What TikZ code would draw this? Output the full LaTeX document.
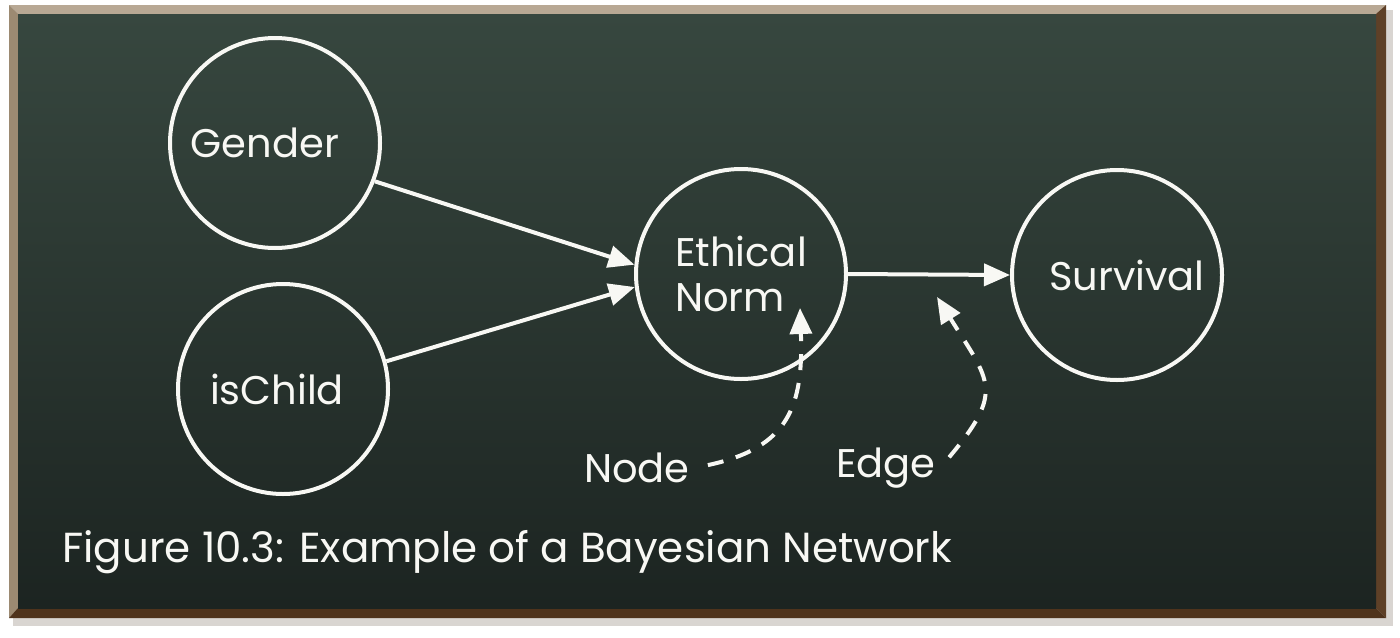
\documentclass[tikz,border=0pt]{standalone}
\usepackage{fontspec}
\setmainfont{Poppins}
\usetikzlibrary{arrows.meta,calc}
\definecolor{chalk}{HTML}{F8F8F4}
\definecolor{boardtop}{HTML}{37473F}
\definecolor{boardbot}{HTML}{1C2421}
\definecolor{frametop}{HTML}{B8A894}
\definecolor{frameleft}{HTML}{9C8A72}
\definecolor{frameright}{HTML}{5E4027}
\definecolor{framebot}{HTML}{4F331C}
\definecolor{shadowc}{HTML}{D9D5D1}
\tikzset{
  var/.style={circle, draw=chalk, line width=2pt, minimum size=105pt, inner sep=0pt,
    text=chalk, font=\fontsize{20}{22.5}\selectfont},
  lbl/.style={text=chalk, font=\fontsize{20}{24}\selectfont, inner sep=2pt},
  conn/.style={draw=chalk, line width=2pt, -{Triangle[length=13pt,width=11pt]}},
  pointer/.style={conn, dash pattern=on 8pt off 6.5pt, shorten <=7pt}
}
\begin{document}
\begin{tikzpicture}[x=0.5pt,y=-0.5pt]
\useasboundingbox (0,0) rectangle (1400,637);
\fill[white] (0,0) rectangle (1400,637);
% shadow
\fill[shadowc] (13,10) rectangle (1393,626);
% frame
\fill[frametop] (9,5) -- (1386,5) -- (1376,14) -- (18,14) -- cycle;
\fill[frameleft] (9,5) -- (18,14) -- (18,608) -- (9,618) -- cycle;
\fill[frameright] (1386,5) -- (1386,618) -- (1376,608) -- (1376,14) -- cycle;
\fill[framebot] (9,618) -- (1386,618) -- (1376,608) -- (18,608) -- cycle;
% board
\shade[top color=boardtop, bottom color=boardbot] (18,14) rectangle (1376,608);

% nodes
\node[var] (g) at (275,143) {Gender\hspace*{10pt}};
\node[var] (c) at (283,389) {isChild\hspace*{6pt}};
\node[var, align=left] (e) at (741,274) {Ethical\\Norm\hspace*{0pt}};
\node[var] (s) at (1117,275) {\hspace*{10pt}Survival};

% edges
\draw[conn] (g.-21) -- (e.175);
\draw[conn] (c.15) -- (e.187);
\draw[conn] (e.0) -- (s.180);

% labels
\node[lbl] (nl) at (637,468) {Node};
\node[lbl] (el) at (886,468) {Edge};
\node[lbl, anchor=west, font=\fontsize{21}{24}\selectfont] (cap) at (58,552) {Figure 10.3: Example of a Bayesian Network};

\coordinate (ntip) at (800,308);
\coordinate (etip) at (937,297);
\draw[pointer] (nl.east) to[out=12,in=-88,looseness=1.3] (ntip);
\draw[pointer] (el.east) to[out=50,in=-58,looseness=1.5] (etip);
\end{tikzpicture}
\end{document}
